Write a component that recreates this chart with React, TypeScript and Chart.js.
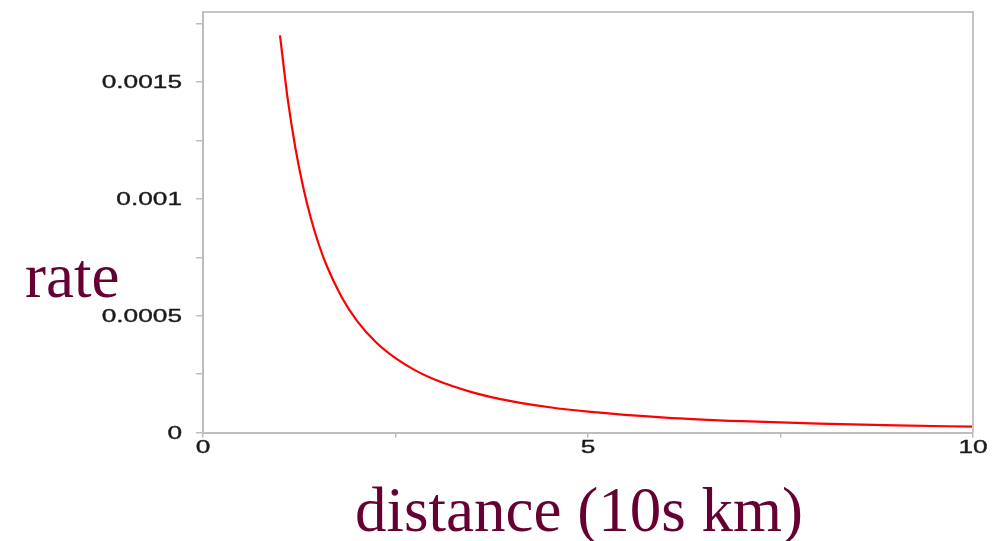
import { useEffect, useRef } from "react";
import { Chart, registerables } from "chart.js";

Chart.register(...registerables);

// distance (10s km)
const distance = [1, 1.1, 1.2, 1.3, 1.4, 1.5, 1.6, 1.8, 2.0, 2.25, 2.5, 2.75, 3, 3.5, 4, 4.5, 5, 6, 7, 8, 9, 10];
// rate
const rate = [
  0.0017, 0.001428, 0.001218, 0.001052, 0.000918, 0.000809, 0.000719, 0.00058, 0.000478, 0.000385,
  0.000318, 0.000267, 0.000228, 0.000172, 0.000134, 0.000108, 0.0000894, 0.000064, 0.0000483,
  0.0000378, 0.0000305, 0.0000251,
];

const xTickValues = [0, 2.5, 5, 7.5, 10];
const xTickLabels = ["0", "", "5", "", "10"];
const yTickValues = [0, 0.00025, 0.0005, 0.00075, 0.001, 0.00125, 0.0015, 0.00175];
const yTickLabels = ["0", "", "0.0005", "", "0.001", "", "0.0015", ""];

const xTitle = "distance (10s km)";
const yTitle = "rate";

const AXIS_GRAY = "#bdbdbd";
const MAROON = "#660033";

export default function App() {
  const ref = useRef<HTMLCanvasElement | null>(null);

  useEffect(() => {
    const canvas = ref.current;
    if (!canvas) return;

    const decor = {
      id: "decor",
      afterDraw(chart: any) {
        const ctx = chart.ctx as CanvasRenderingContext2D;
        const { left, right, top, bottom } = chart.chartArea;
        ctx.save();
        // top & right frame
        ctx.strokeStyle = "#c4c4c4";
        ctx.lineWidth = 2;
        ctx.beginPath();
        ctx.moveTo(left, top);
        ctx.lineTo(right, top);
        ctx.lineTo(right, bottom);
        ctx.stroke();

        // tick labels (wide sans)
        ctx.fillStyle = "#1a1a1a";
        ctx.strokeStyle = "#1a1a1a";
        ctx.lineWidth = 0.35;
        ctx.font = "17.5px 'Liberation Sans', Arial, sans-serif";
        const xs = chart.scales.x;
        const ys = chart.scales.y;
        ctx.textBaseline = "alphabetic";
        xTickValues.forEach((v, i) => {
          const lab = xTickLabels[i];
          if (!lab) return;
          const px = xs.getPixelForValue(v);
          ctx.save();
          ctx.translate(px, 453);
          ctx.scale(1.5, 1);
          ctx.textAlign = "center";
          ctx.fillText(lab, 0, 0);
          ctx.strokeText(lab, 0, 0);
          ctx.restore();
        });
        yTickValues.forEach((v, i) => {
          const lab = yTickLabels[i];
          if (!lab) return;
          const py = ys.getPixelForValue(v);
          ctx.save();
          ctx.translate(182, py + 6.3);
          ctx.scale(1.5, 1);
          ctx.textAlign = "right";
          ctx.fillText(lab, 0, 0);
          ctx.strokeText(lab, 0, 0);
          ctx.restore();
        });

        // axis titles
        ctx.fillStyle = MAROON;
        ctx.textAlign = "left";
        ctx.font = "63px 'Liberation Serif', 'Times New Roman', serif";
        ctx.fillText(yTitle, 25, 297);
        ctx.fillText(xTitle, 355, 531);
        ctx.restore();
      },
    };

    const chart = new Chart(canvas, {
      type: "line",
      data: {
        datasets: [
          {
            data: distance.map((d, i) => ({ x: d, y: rate[i] })),
            borderColor: "#ff0000",
            borderWidth: 2.2,
            pointRadius: 0,
            fill: false,
            cubicInterpolationMode: "monotone",
          },
        ],
      },
      options: {
        animation: false,
        responsive: false,
        devicePixelRatio: 1,
        layout: { padding: { left: 0, right: 28, top: 12, bottom: 0 } },
        plugins: { legend: { display: false }, tooltip: { enabled: false } },
        scales: {
          x: {
            type: "linear",
            min: 0,
            max: 10,
            afterBuildTicks: (s: any) => {
              s.ticks = xTickValues.map((v) => ({ value: v }));
            },
            afterFit: (s: any) => {
              s.height = 108.5;
            },
            ticks: { display: false },
            grid: { drawOnChartArea: false, drawTicks: true, tickLength: 5, color: AXIS_GRAY, lineWidth: 1.5 },
            border: { display: true, color: AXIS_GRAY, width: 2 },
          },
          y: {
            type: "linear",
            min: 0,
            max: 0.0018,
            afterBuildTicks: (s: any) => {
              s.ticks = yTickValues.map((v) => ({ value: v }));
            },
            afterFit: (s: any) => {
              s.width = 203;
            },
            ticks: { display: false },
            grid: { drawOnChartArea: false, drawTicks: true, tickLength: 7, color: AXIS_GRAY, lineWidth: 1.5 },
            border: { display: true, color: AXIS_GRAY, width: 2 },
          },
        },
      },
      plugins: [decor],
    });

    return () => chart.destroy();
  }, []);

  return (
    <div style={{ position: "absolute", left: 0, top: 0, width: 1001, height: 541, background: "#fff" }}>
      <canvas ref={ref} width={1001} height={541} style={{ display: "block" }} />
    </div>
  );
}
